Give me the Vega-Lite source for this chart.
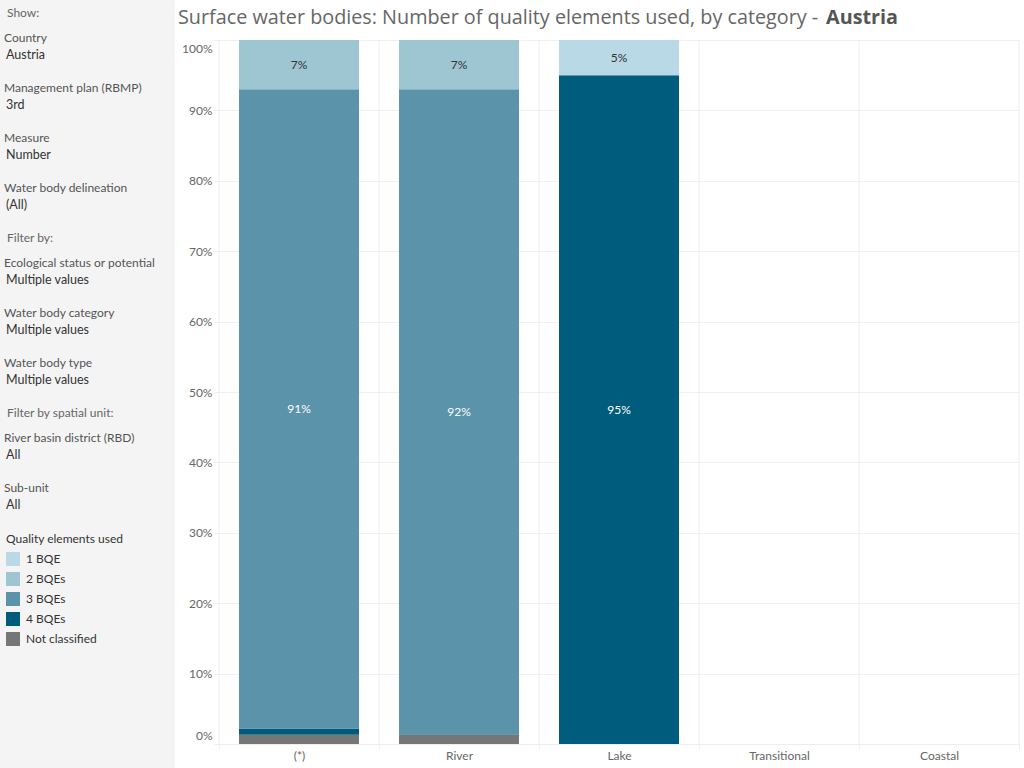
{
  "$schema": "https://vega.github.io/schema/vega-lite/v6.json",
  "padding": 0,
  "background": "white",
  "spacing": 3,
  "config": {
    "font": "Lato",
    "view": {"stroke": null}
  },
  "datasets": {
    "bars": [
      {"category": "(*)", "quality": "Not classified", "pct": 0.013},
      {"category": "(*)", "quality": "4 BQEs", "pct": 0.009},
      {"category": "(*)", "quality": "3 BQEs", "pct": 0.908},
      {"category": "(*)", "quality": "2 BQEs", "pct": 0.070},
      {"category": "River", "quality": "Not classified", "pct": 0.013},
      {"category": "River", "quality": "4 BQEs", "pct": 0.001},
      {"category": "River", "quality": "3 BQEs", "pct": 0.916},
      {"category": "River", "quality": "2 BQEs", "pct": 0.070},
      {"category": "Lake", "quality": "4 BQEs", "pct": 0.950},
      {"category": "Lake", "quality": "1 BQE", "pct": 0.050}
    ],
    "categories": [
      {"category": "(*)"},
      {"category": "River"},
      {"category": "Lake"},
      {"category": "Transitional"},
      {"category": "Coastal"}
    ],
    "title": [
      {"main": "Surface water bodies: Number of quality elements used, by category - ", "country": "Austria"}
    ]
  },
  "resolve": {"scale": {"color": "shared"}, "legend": {"color": "shared"}},
  "hconcat": [
    {
      "width": 175,
      "height": 768,
      "view": {"fill": "#f4f4f4", "stroke": null},
      "data": {
        "values": [
          {"key": "Show:", "kind": "header"},
          {"key": "Country", "kind": "field", "value": "Austria"},
          {"key": "Management plan (RBMP)", "kind": "field", "value": "3rd"},
          {"key": "Measure", "kind": "field", "value": "Number"},
          {"key": "Water body delineation", "kind": "field", "value": "(All)"},
          {"key": "Filter by:", "kind": "header"},
          {"key": "Ecological status or potential", "kind": "field", "value": "Multiple values"},
          {"key": "Water body category", "kind": "field", "value": "Multiple values"},
          {"key": "Water body type", "kind": "field", "value": "Multiple values"},
          {"key": "Filter by spatial unit:", "kind": "header"},
          {"key": "River basin district (RBD)", "kind": "field", "value": "All"},
          {"key": "Sub-unit", "kind": "field", "value": "All"}
        ]
      },
      "encoding": {
        "x": {"datum": 0, "type": "quantitative", "scale": {"domain": [0, 1]}, "axis": null},
        "y": {
          "field": "key",
          "type": "nominal",
          "axis": null,
          "scale": {
            "type": "band",
            "paddingInner": 0,
            "paddingOuter": 0.36,
            "align": 0,
            "domain": ["Show:", "Country", "_a", "Management plan (RBMP)", "_b", "Measure", "_c", "Water body delineation", "_d", "Filter by:", "Ecological status or potential", "_e", "Water body category", "_f", "Water body type", "_g", "Filter by spatial unit:", "River basin district (RBD)", "_h", "Sub-unit", "_i", "_j", "_k", "_l", "_m", "_n", "_o", "_p", "_q", "_r"]
          }
        }
      },
      "layer": [
        {
          "transform": [{"filter": "datum.kind === 'header'"}],
          "mark": {"type": "text", "align": "left", "baseline": "middle", "dx": 7, "fontSize": 12, "color": "#666666"},
          "encoding": {"text": {"field": "key"}}
        },
        {
          "transform": [{"filter": "datum.kind === 'field'"}],
          "mark": {"type": "text", "align": "left", "baseline": "middle", "dx": 4, "fontSize": 12, "color": "#555555"},
          "encoding": {"text": {"field": "key"}}
        },
        {
          "transform": [{"filter": "datum.kind === 'field'"}],
          "mark": {"type": "text", "align": "left", "baseline": "middle", "dx": 6, "dy": 17, "fontSize": 12.5, "color": "#333333"},
          "encoding": {"text": {"field": "value"}}
        }
      ]
    },
    {
      "width": 800,
      "height": 744,
      "encoding": {
        "x": {
          "field": "category",
          "type": "nominal",
          "scale": {"domain": ["(*)", "River", "Lake", "Transitional", "Coastal"], "paddingInner": 0, "paddingOuter": 0},
          "axis": {
            "title": null,
            "labelAngle": 0,
            "labelFontSize": 12,
            "labelColor": "#666666",
            "labelPadding": 1,
            "tickBand": "extent",
            "tickSize": 5,
            "tickColor": "#eeeeee",
            "domainColor": "#eeeeee",
            "grid": false
          }
        }
      },
      "layer": [
        {
          "data": {"name": "categories"},
          "mark": {"type": "rule", "color": "#eeeeee", "strokeWidth": 1},
          "encoding": {
            "x": {"field": "category", "type": "nominal", "bandPosition": 0},
            "y": {"datum": 0, "type": "quantitative"},
            "y2": {"datum": 1}
          }
        },
        {
          "data": {"name": "categories"},
          "transform": [{"filter": "datum.category === 'Coastal'"}],
          "mark": {"type": "rule", "color": "#eeeeee", "strokeWidth": 1},
          "encoding": {
            "x": {"field": "category", "type": "nominal", "bandPosition": 1},
            "y": {"datum": 0, "type": "quantitative"},
            "y2": {"datum": 1}
          }
        },
        {
          "data": {"name": "bars"},
          "mark": {"type": "bar", "width": {"band": 0.75}},
          "encoding": {
            "y": {
              "field": "pct",
              "type": "quantitative",
              "stack": "zero",
              "scale": {"domain": [0, 1.05682], "nice": false, "zero": true},
              "axis": {
                "title": null,
                "values": [0, 0.1, 0.2, 0.3, 0.4, 0.5, 0.6, 0.7, 0.8, 0.9, 1],
                "format": ".0%",
                "labelFontSize": 12,
                "labelColor": "#666666",
                "labelPadding": 2,
                "labelBaseline": "middle",
                "labelOffset": {"expr": "datum.value === 0 ? -9 : datum.value === 1 ? 8 : 0"},
                "tickSize": 5,
                "tickColor": "#eeeeee",
                "domain": false,
                "grid": true,
                "gridColor": "#f0f0f0"
              }
            },
            "order": {"field": "quality", "sort": "descending"},
            "color": {
              "field": "quality",
              "type": "nominal",
              "scale": {
                "domain": ["1 BQE", "2 BQEs", "3 BQEs", "4 BQEs", "Not classified"],
                "range": ["#b9d9e6", "#9dc5d2", "#5a93aa", "#005c7c", "#767676"]
              },
              "legend": {
                "title": "Quality elements used",
                "orient": "none",
                "legendX": 6,
                "legendY": 534,
                "titleFontSize": 12,
                "titleFontWeight": "normal",
                "titleColor": "#333333",
                "titlePadding": 6,
                "labelFontSize": 12,
                "labelColor": "#333333",
                "labelOffset": 6,
                "symbolType": "square",
                "symbolSize": 196,
                "symbolStrokeWidth": 0,
                "symbolOpacity": 1,
                "rowPadding": 6
              }
            }
          }
        },
        {
          "data": {"name": "bars"},
          "mark": {"type": "text", "fontSize": 12, "baseline": "middle"},
          "encoding": {
            "y": {"field": "pct", "type": "quantitative", "stack": "zero", "bandPosition": 0.5},
            "order": {"field": "quality", "sort": "descending"},
            "text": {
              "condition": {"test": "datum.pct < 0.04", "value": ""},
              "field": "pct",
              "type": "quantitative",
              "format": ".0%"
            },
            "color": {
              "condition": {"test": "datum.quality === '3 BQEs' || datum.quality === '4 BQEs'", "value": "white"},
              "value": "#333333"
            }
          }
        },
        {
          "data": {"name": "title"},
          "mark": {"type": "text", "align": "left", "baseline": "middle", "dx": -41, "fontSize": 19.8, "font": "Open Sans", "color": "#666666"},
          "encoding": {
            "x": {"datum": "(*)", "type": "nominal", "bandPosition": 0},
            "y": {"datum": 1.03125, "type": "quantitative"},
            "text": {"field": "main"}
          }
        },
        {
          "data": {"name": "title"},
          "mark": {"type": "text", "align": "left", "baseline": "middle", "dx": 607, "fontSize": 19.8, "font": "Open Sans", "fontWeight": "bold", "color": "#555555"},
          "encoding": {
            "x": {"datum": "(*)", "type": "nominal", "bandPosition": 0},
            "y": {"datum": 1.03125, "type": "quantitative"},
            "text": {"field": "country"}
          }
        }
      ]
    }
  ]
}
